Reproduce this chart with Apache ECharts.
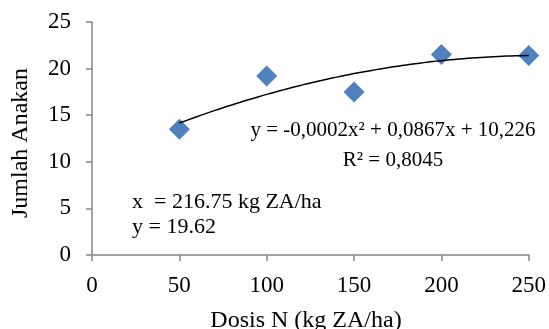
<!DOCTYPE html>
<html>
<head>
<meta charset="utf-8">
<script src="https://cdn.jsdelivr.net/npm/echarts@6/dist/echarts.min.js"></script>
<style>
html,body{margin:0;padding:0;background:#fff;}
#c{width:549px;height:329px;}
</style>
</head>
<body>
<div id="c"></div>
<script>
// Data
var doses = [50, 100, 150, 200, 250];
var tillers = [13.5, 19.2, 17.5, 21.5, 21.4];
var xTicks = [0, 50, 100, 150, 200, 250];
var yTicks = [0, 5, 10, 15, 20, 25];
var equationText = 'y = -0,0002x\u00B2 + 0,0867x + 10,226';
var r2Text = 'R\u00B2 = 0,8045';
var optimumText = 'x  = 216.75 kg ZA/ha\ny = 19.62';
var xTitle = 'Dosis N (kg ZA/ha)';
var yTitle = 'Jumlah Anakan';

// Least-squares quadratic fit (Excel polynomial trendline, order 2)
function fitQuadratic(xs, ys) {
  var n = xs.length, S = [0,0,0,0,0], T = [0,0,0];
  for (var i = 0; i < n; i++) {
    var p = 1;
    for (var k = 0; k < 5; k++) { S[k] += p; if (k < 3) T[k] += p * ys[i]; p *= xs[i]; }
  }
  var A = [[S[0],S[1],S[2],T[0]],[S[1],S[2],S[3],T[1]],[S[2],S[3],S[4],T[2]]];
  for (var c = 0; c < 3; c++) {
    for (var r = c + 1; r < 3; r++) {
      var f = A[r][c] / A[c][c];
      for (var j = c; j < 4; j++) A[r][j] -= f * A[c][j];
    }
  }
  var b = [0,0,0];
  for (var r2 = 2; r2 >= 0; r2--) {
    var s = A[r2][3];
    for (var j2 = r2 + 1; j2 < 3; j2++) s -= A[r2][j2] * b[j2];
    b[r2] = s / A[r2][r2];
  }
  return b;
}
var coef = fitQuadratic(doses, tillers);
var trend = [];
for (var x = doses[0]; x <= doses[doses.length - 1]; x += 5) {
  trend.push([x, coef[0] + coef[1] * x + coef[2] * x * x]);
}

var FONT = '"Liberation Serif", "Times New Roman", serif';
var chart = echarts.init(document.getElementById('c'));
chart.setOption({
  backgroundColor: '#ffffff',
  animation: false,
  grid: { left: 92, right: 20, top: 22, bottom: 74 },
  xAxis: {
    type: 'value', min: xTicks[0], max: xTicks[xTicks.length - 1], interval: 50,
    axisLine: { lineStyle: { color: '#868686', width: 1.5 } },
    axisTick: { show: true, length: 6, lineStyle: { color: '#868686', width: 1.5 } },
    axisLabel: { color: '#000', fontFamily: FONT, fontSize: 23, margin: 19 },
    splitLine: { show: false }
  },
  yAxis: {
    type: 'value', min: yTicks[0], max: yTicks[yTicks.length - 1], interval: 5,
    axisLine: { show: true, lineStyle: { color: '#868686', width: 1.5 } },
    axisTick: { show: true, length: 6, lineStyle: { color: '#868686', width: 1.5 } },
    axisLabel: { color: '#000', fontFamily: FONT, fontSize: 23, margin: 21 },
    splitLine: { show: false }
  },
  series: [
    {
      type: 'line', data: trend, showSymbol: false, smooth: true, z: 3,
      lineStyle: { color: '#000', width: 1.5 }
    },
    {
      type: 'scatter', z: 2,
      data: doses.map(function (d, i) { return [d, tillers[i]]; }),
      symbol: 'diamond', symbolSize: [21, 21],
      itemStyle: { color: '#4F81BD', opacity: 1 }
    }
  ],
  graphic: [
    { type: 'text', x: 393, y: 130, style: { text: equationText, font: '21px ' + FONT, fill: '#000', textAlign: 'center', textVerticalAlign: 'middle' } },
    { type: 'text', x: 393, y: 160, style: { text: r2Text, font: '21px ' + FONT, fill: '#000', textAlign: 'center', textVerticalAlign: 'middle' } },
    { type: 'text', x: 132, y: 215, style: { text: optimumText, font: '22px ' + FONT, fill: '#000', textAlign: 'left', textVerticalAlign: 'middle', lineHeight: 25 } },
    { type: 'text', x: 306, y: 321, style: { text: xTitle, font: '24px ' + FONT, fill: '#000', textAlign: 'center', textVerticalAlign: 'middle' } },
    { type: 'text', x: 21, y: 143, rotation: Math.PI / 2, style: { text: yTitle, font: '24px ' + FONT, fill: '#000', textAlign: 'center', textVerticalAlign: 'middle' } }
  ]
});
</script>
</body>
</html>
